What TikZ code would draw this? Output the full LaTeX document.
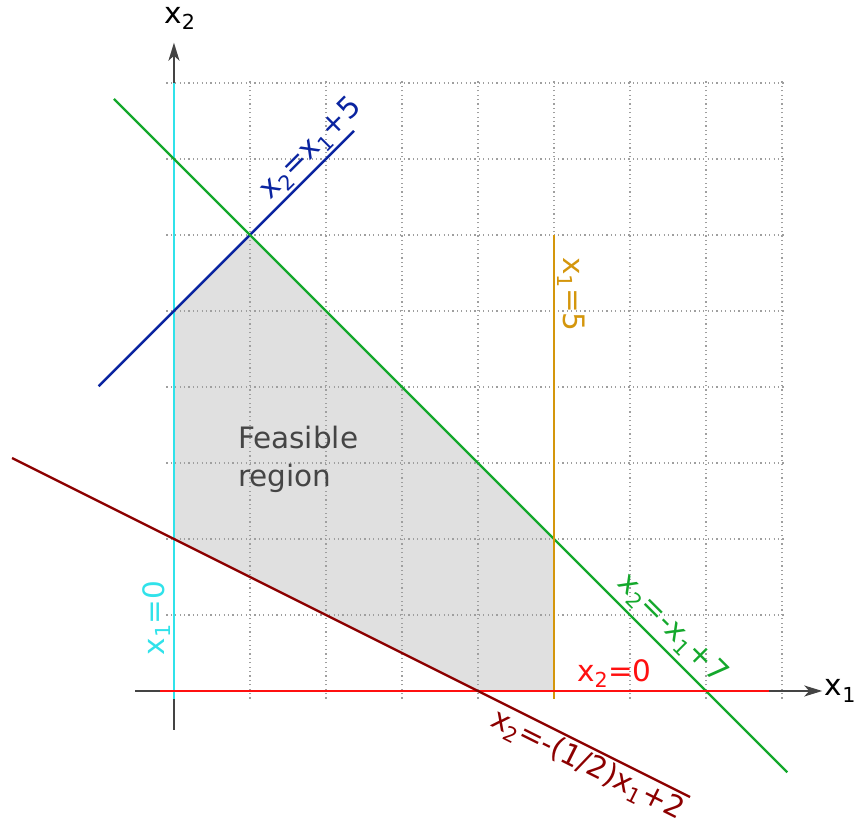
\documentclass[tikz,border=0pt]{standalone}
\usepackage{fontspec}
\setmainfont{DejaVu Sans}
\usetikzlibrary{arrows.meta}
\definecolor{ccyan}{HTML}{30E2EA}
\definecolor{cblue}{HTML}{0A24A0}
\definecolor{cgreen}{HTML}{14A82C}
\definecolor{cgold}{HTML}{D4960C}
\definecolor{cred}{HTML}{FF1010}
\definecolor{cdred}{HTML}{8C0000}
\definecolor{cfill}{HTML}{E0E0E0}
\definecolor{ctext}{HTML}{454545}
\definecolor{caxis}{HTML}{444444}
\newcommand{\sub}[1]{\textsubscript{#1}}
\begin{document}
\begin{tikzpicture}[x=76pt,y=76pt,
  every node/.style={font=\fontsize{29.5}{38}\selectfont},
  gridline/.style={gray!75, line width=1.2pt, dash pattern=on 1.2pt off 3.2pt},
  axisline/.style={caxis, line width=2pt, -{Stealth[length=18pt,width=11pt,inset=5pt]}},
  cline/.style={line width=2.4pt},
  lbl/.style={sloped, inner sep=2pt}]
\useasboundingbox (-2.289,-1.776) rectangle (8.961,9.092);
% feasible region
\fill[cfill] (0,2) -- (0,5) -- (1,6) -- (5,2) -- (5,0) -- (4,0) -- cycle;
% grid
\draw[gridline, step=1] (-0.1,-0.1) grid (8.06,8.05);
% axes
\coordinate (xs) at (-0.51,0);
\coordinate (xe) at (8.53,0);
\coordinate (ys) at (0,-0.51);
\coordinate (ye) at (0,8.53);
\draw[axisline] (xs) -- (xe);
\draw[axisline] (ys) -- (ye);
\node (xlab) at (8.77,0) {x\sub{1}};
\node (ylab) at (0.08,8.85) {x\sub{2}};
% x1 = 0
\coordinate (c1) at (0,-0.1);
\coordinate (c2) at (0,8.0);
\draw[cline, ccyan] (c1) -- node[lbl, pos=0.131, anchor=south, text=ccyan] {x\sub{1}=0} (c2);
% x2 = x1 + 5
\coordinate (b1) at (-0.99,4.01);
\coordinate (b2) at (2.37,7.37);
\draw[cline, cblue] (b1) -- node[lbl, pos=0.88, anchor=south, text=cblue] {x\sub{2}=x\sub{1}+5} (b2);
% x2 = -x1 + 7
\coordinate (g1) at (-0.79,7.79);
\coordinate (g2) at (8.07,-1.07);
\draw[cline, cgreen] (g1) -- node[lbl, pos=0.808, anchor=south, inner sep=4pt, text=cgreen] {x\sub{2}=-x\sub{1}+7} (g2);
% x1 = 5
\coordinate (o1) at (5,6);
\coordinate (o2) at (5,-0.11);
\draw[cline, cgold] (o1) -- node[lbl, pos=0.128, anchor=south, text=cgold] {x\sub{1}=5} (o2);
% x2 = 0
\coordinate (r1) at (-0.18,0);
\coordinate (r2) at (7.83,0);
\draw[cline, cred] (r1) -- node[lbl, pos=0.746, anchor=south, text=cred] {x\sub{2}=0} (r2);
% x2 = -(1/2)x1 + 2
\coordinate (d1) at (-2.13,3.065);
\coordinate (d2) at (6.79,-1.395);
\draw[cline, cdred] (d1) -- node[lbl, pos=0.86, anchor=north, text=cdred] {x\sub{2}=-(1/2)x\sub{1}+2} (d2);
% label
\node[anchor=north west, align=left, inner sep=0pt, text=ctext] (feas) at (0.84,3.49) {Feasible\\region};
\end{tikzpicture}
\end{document}
